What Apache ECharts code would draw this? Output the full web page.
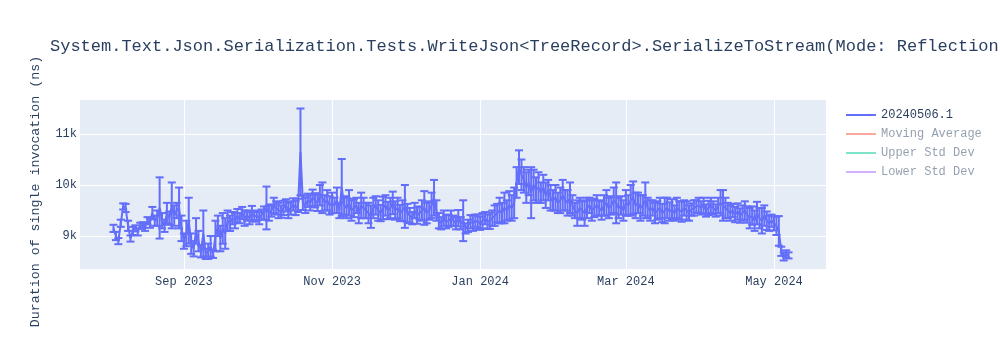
<!DOCTYPE html>
<html>
<head>
<meta charset="utf-8">
<script src="https://cdn.jsdelivr.net/npm/echarts@6/dist/echarts.min.js"></script>
<style>html,body{margin:0;padding:0;background:#fff}#chart{width:1000px;height:350px}</style>
</head>
<body>
<div id="chart"></div>
<script>
var chartTitle = 'System.Text.Json.Serialization.Tests.WriteJson<TreeRecord>.SerializeToStream(Mode: Reflection)';
var yAxisTitle = 'Duration of single invocation (ns)';
var seriesName = '20240506.1';
var legendNames = ['20240506.1', 'Moving Average', 'Upper Std Dev', 'Lower Std Dev'];
var xTickDates = ['2023-09-01', '2023-11-01', '2024-01-01', '2024-03-01', '2024-05-01'];
var xTickLabels = ['Sep 2023', 'Nov 2023', 'Jan 2024', 'Mar 2024', 'May 2024'];
var yTickValues = [9000, 10000, 11000];
var yTickLabels = ['9k', '10k', '11k'];

var dates = [
'2023-08-03','2023-08-04','2023-08-05','2023-08-06','2023-08-07','2023-08-08','2023-08-09','2023-08-10','2023-08-11','2023-08-12',
'2023-08-13','2023-08-14','2023-08-15','2023-08-16','2023-08-17','2023-08-18','2023-08-19','2023-08-20','2023-08-21','2023-08-22',
'2023-08-23','2023-08-24','2023-08-25','2023-08-26','2023-08-27','2023-08-28','2023-08-29','2023-08-30','2023-08-31',
'2023-09-01','2023-09-02','2023-09-03','2023-09-04','2023-09-05','2023-09-06','2023-09-07','2023-09-08','2023-09-09','2023-09-10',
'2023-09-11','2023-09-12','2023-09-13','2023-09-14','2023-09-15','2023-09-16','2023-09-17','2023-09-18','2023-09-19','2023-09-20',
'2023-09-21','2023-09-22','2023-09-23','2023-09-24','2023-09-25','2023-09-26','2023-09-27','2023-09-28','2023-09-29','2023-09-30',
'2023-10-01','2023-10-02','2023-10-03','2023-10-04','2023-10-05','2023-10-06','2023-10-07','2023-10-08','2023-10-09','2023-10-10',
'2023-10-11','2023-10-12','2023-10-13','2023-10-14','2023-10-15','2023-10-16','2023-10-17','2023-10-18','2023-10-19','2023-10-20',
'2023-10-21','2023-10-22','2023-10-23','2023-10-24','2023-10-25','2023-10-26','2023-10-27','2023-10-28','2023-10-29','2023-10-30','2023-10-31',
'2023-11-01','2023-11-02','2023-11-03','2023-11-04','2023-11-05','2023-11-06','2023-11-07','2023-11-08','2023-11-09','2023-11-10',
'2023-11-11','2023-11-12','2023-11-13','2023-11-14','2023-11-15','2023-11-16','2023-11-17','2023-11-18','2023-11-19','2023-11-20',
'2023-11-21','2023-11-22','2023-11-23','2023-11-24','2023-11-25','2023-11-26','2023-11-27','2023-11-28','2023-11-29','2023-11-30',
'2023-12-01','2023-12-02','2023-12-03','2023-12-04','2023-12-05','2023-12-06','2023-12-07','2023-12-08','2023-12-09','2023-12-10',
'2023-12-11','2023-12-12','2023-12-13','2023-12-14','2023-12-15','2023-12-16','2023-12-17','2023-12-18','2023-12-19','2023-12-20',
'2023-12-21','2023-12-22','2023-12-23','2023-12-24','2023-12-25','2023-12-26','2023-12-27','2023-12-28','2023-12-29','2023-12-30','2023-12-31',
'2024-01-01','2024-01-02','2024-01-03','2024-01-04','2024-01-05','2024-01-06','2024-01-07','2024-01-08','2024-01-09','2024-01-10',
'2024-01-11','2024-01-12','2024-01-13','2024-01-14','2024-01-15','2024-01-16','2024-01-17','2024-01-18','2024-01-19','2024-01-20',
'2024-01-21','2024-01-22','2024-01-23','2024-01-24','2024-01-25','2024-01-26','2024-01-27','2024-01-28','2024-01-29','2024-01-30','2024-01-31',
'2024-02-01','2024-02-02','2024-02-03','2024-02-04','2024-02-05','2024-02-06','2024-02-07','2024-02-08','2024-02-09','2024-02-10',
'2024-02-11','2024-02-12','2024-02-13','2024-02-14','2024-02-15','2024-02-16','2024-02-17','2024-02-18','2024-02-19','2024-02-20',
'2024-02-21','2024-02-22','2024-02-23','2024-02-24','2024-02-25','2024-02-26','2024-02-27','2024-02-28','2024-02-29',
'2024-03-01','2024-03-02','2024-03-03','2024-03-04','2024-03-05','2024-03-06','2024-03-07','2024-03-08','2024-03-09','2024-03-10',
'2024-03-11','2024-03-12','2024-03-13','2024-03-14','2024-03-15','2024-03-16','2024-03-17','2024-03-18','2024-03-19','2024-03-20',
'2024-03-21','2024-03-22','2024-03-23','2024-03-24','2024-03-25','2024-03-26','2024-03-27','2024-03-28','2024-03-29','2024-03-30','2024-03-31',
'2024-04-01','2024-04-02','2024-04-03','2024-04-04','2024-04-05','2024-04-06','2024-04-07','2024-04-08','2024-04-09','2024-04-10',
'2024-04-11','2024-04-12','2024-04-13','2024-04-14','2024-04-15','2024-04-16','2024-04-17','2024-04-18','2024-04-19','2024-04-20',
'2024-04-21','2024-04-22','2024-04-23','2024-04-24','2024-04-25','2024-04-26','2024-04-27','2024-04-28','2024-04-29','2024-04-30',
'2024-05-01','2024-05-02','2024-05-03','2024-05-04','2024-05-05','2024-05-06','2024-05-07'
];

var durations = [
9150,9000,8900,9250,9580,9550,9200,8950,9100,9150,
9080,9200,9220,9180,9300,9250,9450,9300,9350,9550,
9300,9200,9450,9350,9600,9400,9500,9550,9150,
8900,9050,9300,8850,8750,9100,8900,8700,9050,8650,
8700,8800,8650,9000,9200,8950,9150,9050,9300,9250,
9350,9300,9400,9350,9450,9350,9400,9350,9450,9380,
9400,9350,9420,9450,9550,9450,9500,9600,9550,9500,
9480,9550,9600,9500,9550,9620,9550,9600,10650,9650,
9600,9700,9650,9750,9700,9650,9800,9750,9650,9700,9600,
9650,9600,9700,9500,9950,9600,9550,9650,9500,9550,
9600,9450,9600,9550,9500,9450,9380,9550,9600,9500,
9450,9550,9600,9500,9550,9650,9500,9550,9450,9500,
9580,9450,9400,9350,9500,9400,9450,9500,9550,9450,
9500,9600,9750,9500,9300,9250,9350,9280,9300,9350,
9300,9250,9350,9250,9300,9150,9200,9280,9250,9300,9280,
9250,9300,9350,9280,9300,9350,9400,9450,9500,9450,
9550,9500,9600,9550,9650,10050,10350,10200,10100,9950,
10050,9850,10000,9900,9950,9850,9950,9800,9900,9750,9700,
9750,9650,9700,9800,9700,9650,9750,9600,9500,9450,
9550,9500,9450,9550,9600,9500,9550,9600,9550,9500,
9600,9650,9550,9600,9700,9650,9550,9600,9500,
9650,9600,9700,9750,9600,9650,9550,9600,9700,9550,
9500,9550,9450,9500,9550,9450,9500,9550,9480,9520,
9450,9550,9500,9480,9550,9500,9450,9520,9550,9580,9600,
9550,9600,9500,9550,9600,9550,9500,9600,9650,9600,
9550,9500,9450,9500,9420,9480,9400,9450,9500,9420,
9350,9400,9300,9450,9350,9300,9400,9300,9250,9300,
9250,9200,9100,8700,8600,8650,8620
];

var errors = [
70,80,60,70,60,80,100,60,80,60,
70,60,50,80,70,90,120,100,150,600,
150,120,200,130,450,200,150,400,250,
150,250,450,200,150,250,200,120,450,100,
150,200,80,300,200,250,300,300,200,150,
120,150,130,100,120,150,100,120,140,100,
100,120,100,130,420,150,120,150,130,150,
120,140,120,150,130,120,140,130,850,140,
150,130,150,160,140,160,200,300,150,200,180,
200,150,250,150,560,180,200,250,200,180,
150,200,250,200,150,200,220,200,180,200,
160,220,200,170,200,220,180,200,160,200,
420,180,150,120,150,160,130,200,330,200,
180,250,350,200,150,120,150,130,120,150,
100,120,160,120,400,100,120,130,150,120,140,
130,150,120,140,160,150,200,180,250,200,
300,200,280,250,300,300,330,300,250,300,
250,500,300,250,300,200,250,250,200,250,200,
250,200,250,300,200,250,300,200,150,250,
200,180,250,200,150,200,180,200,150,180,
200,250,200,180,250,400,200,180,200,
250,200,300,320,250,200,250,200,350,200,
200,150,200,180,200,180,250,200,180,200,
150,200,180,200,150,180,150,120,150,120,150,
130,150,120,140,150,130,120,150,250,300,
200,150,150,130,150,160,140,150,180,160,
200,180,200,220,200,250,200,180,150,120,
140,180,290,90,80,70,60
];

var lineColor = '#636efa';
var legendColors = ['#636efa', 'rgba(239,85,59,0.5)', 'rgba(0,204,150,0.5)', 'rgba(171,99,250,0.5)'];
var textColor = '#2a3f5f';
var fadedText = 'rgba(42,63,95,0.5)';
var fontFamily = '"Liberation Mono", "DejaVu Sans Mono", monospace';

function toTime(d) { return new Date(d + 'T00:00:00Z').getTime(); }
var lineData = dates.map(function (d, i) { return [toTime(d), durations[i]]; });
var errData = dates.map(function (d, i) { return [toTime(d), durations[i] - errors[i], durations[i] + errors[i]]; });
var xTickTimes = xTickDates.map(toTime);

function renderErr(params, api) {
  var x = api.value(0);
  var lo = api.coord([x, api.value(1)]);
  var hi = api.coord([x, api.value(2)]);
  var hw = 4;
  var st = { stroke: lineColor, lineWidth: 2, fill: null };
  return {
    type: 'group',
    children: [
      { type: 'line', shape: { x1: hi[0], y1: hi[1], x2: lo[0], y2: lo[1] }, style: st },
      { type: 'line', shape: { x1: hi[0] - hw, y1: hi[1], x2: hi[0] + hw, y2: hi[1] }, style: st },
      { type: 'line', shape: { x1: lo[0] - hw, y1: lo[1], x2: lo[0] + hw, y2: lo[1] }, style: st }
    ]
  };
}

var chart = echarts.init(document.getElementById('chart'), null, { renderer: 'canvas' });
var option = {
  animation: false,
  backgroundColor: '#ffffff',
  textStyle: { fontFamily: fontFamily },
  title: {
    text: chartTitle,
    left: 45,
    top: 33,
    textStyle: { fontFamily: fontFamily, fontSize: 17, fontWeight: 'normal', color: textColor }
  },
  legend: {
    orient: 'vertical',
    left: 841,
    top: 104,
    itemGap: 7,
    itemWidth: 30,
    itemHeight: 2,
    icon: 'rect',
    selectedMode: false,
    data: legendNames.map(function (n, i) {
      return {
        name: n,
        itemStyle: { color: legendColors[i] },
        textStyle: { color: i === 0 ? textColor : fadedText }
      };
    }),
    textStyle: { fontFamily: fontFamily, fontSize: 12, color: textColor }
  },
  grid: { left: 80, right: 174, top: 100, bottom: 81, show: true, backgroundColor: '#e5ecf6', borderWidth: 0 },
  xAxis: {
    type: 'value',
    min: toTime('2023-07-20') + 5 * 3600000,
    max: toTime('2024-05-22') + 10 * 3600000,
    axisLine: { show: false },
    axisTick: { show: false, customValues: xTickTimes },
    axisLabel: {
      customValues: xTickTimes,
      margin: 7,
      color: textColor,
      fontFamily: fontFamily,
      fontSize: 12,
      formatter: function (v) {
        var idx = xTickTimes.indexOf(v);
        return idx >= 0 ? xTickLabels[idx] : '';
      }
    },
    splitLine: { show: true, lineStyle: { color: '#ffffff', width: 1 } }
  },
  yAxis: {
    type: 'value',
    min: 8353,
    max: 11667,
    name: yAxisTitle,
    nameLocation: 'middle',
    nameGap: 38,
    nameRotate: 90,
    nameTextStyle: { fontFamily: fontFamily, fontSize: 13.3, color: textColor, padding: [0, 14, 0, 0] },
    axisLine: { show: false },
    axisTick: { show: false, customValues: yTickValues },
    axisLabel: {
      customValues: yTickValues,
      margin: 3,
      color: textColor,
      fontFamily: fontFamily,
      fontSize: 12,
      formatter: function (v) {
        var idx = yTickValues.indexOf(v);
        return idx >= 0 ? yTickLabels[idx] : '';
      }
    },
    splitLine: { show: true, lineStyle: { color: '#ffffff', width: 1 } }
  },
  series: [
    {
      name: seriesName,
      type: 'line',
      data: lineData,
      showSymbol: false,
      symbol: 'none',
      lineStyle: { color: lineColor, width: 2 },
      itemStyle: { color: lineColor },
      z: 3
    },
    {
      name: 'errors',
      type: 'custom',
      renderItem: renderErr,
      data: errData,
      encode: { x: 0, y: [1, 2] },
      z: 2
    },
    { name: 'Moving Average', type: 'line', data: [], itemStyle: { color: legendColors[1] }, lineStyle: { color: legendColors[1] } },
    { name: 'Upper Std Dev', type: 'line', data: [], itemStyle: { color: legendColors[2] }, lineStyle: { color: legendColors[2] } },
    { name: 'Lower Std Dev', type: 'line', data: [], itemStyle: { color: legendColors[3] }, lineStyle: { color: legendColors[3] } }
  ]
};
chart.setOption(option);
</script>
</body>
</html>
